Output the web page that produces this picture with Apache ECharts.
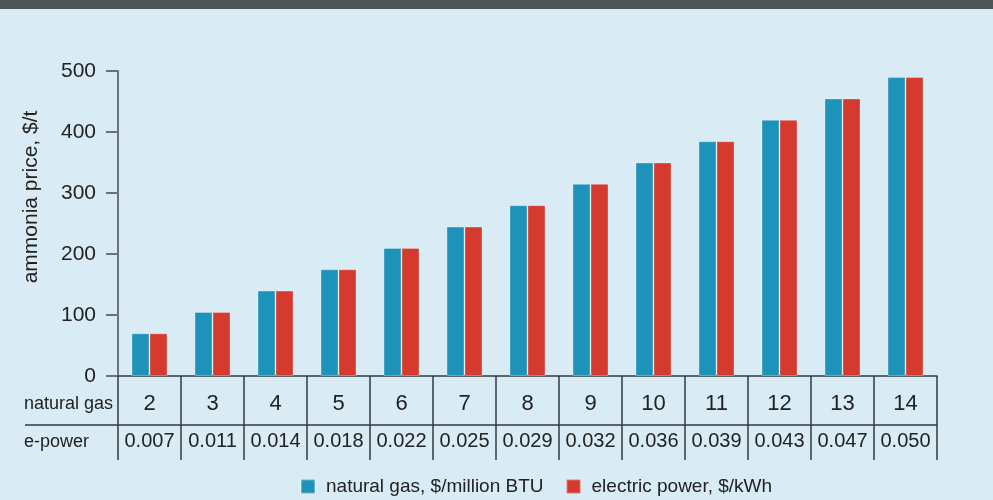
<!DOCTYPE html>
<html>
<head>
<meta charset="utf-8">
<script src="https://cdn.jsdelivr.net/npm/echarts@6/dist/echarts.min.js"></script>
<style>
  html, body { margin: 0; padding: 0; background: #d9ecf5; }
  #chart { width: 993px; height: 500px; }
</style>
</head>
<body>
<div id="chart"></div>
<script>
  // 数据
  var naturalGas = ['2', '3', '4', '5', '6', '7', '8', '9', '10', '11', '12', '13', '14']
  var ePower = ['0.007', '0.011', '0.014', '0.018', '0.022', '0.025', '0.029', '0.032', '0.036', '0.039', '0.043', '0.047', '0.050']
  var gasPrice = [70, 105, 140, 175, 210, 245, 280, 315, 350, 385, 420, 455, 490]
  var powerPrice = [70, 105, 140, 175, 210, 245, 280, 315, 350, 385, 420, 455, 490]
  var yTicks = [0, 100, 200, 300, 400, 500]

  var font = 'Liberation Sans, Arial, sans-serif'
  var lineColor = '#333a3e'

  var chart = echarts.init(document.getElementById('chart'))
  chart.setOption({
    backgroundColor: '#d9ecf5',
    textStyle: { fontFamily: font },
    animation: false,
    grid: { left: 118, right: 56, top: 71, bottom: 124 },
    legend: {
      left: 295,
      top: 472,
      itemWidth: 14,
      itemHeight: 14,
      itemGap: 22,
      icon: 'rect',
      textStyle: { fontSize: 19, color: '#222', padding: [0, 0, 0, 6] },
      data: ['natural gas, $/million BTU', 'electric power, $/kWh']
    },
    xAxis: [{
      type: 'category',
      data: naturalGas,
      axisLine: { lineStyle: { color: lineColor, width: 1.5 } },
      axisTick: { show: true, interval: 0, inside: false, length: 84, lineStyle: { color: lineColor, width: 1.5 } },
      axisLabel: { interval: 0, margin: 17, fontSize: 22, color: '#222' }
    }, {
      type: 'category',
      data: ePower,
      position: 'bottom',
      axisLine: { show: false },
      axisTick: { show: false },
      axisLabel: { interval: 0, margin: 55, fontSize: 20, color: '#222' }
    }],
    yAxis: {
      type: 'value',
      min: yTicks[0],
      max: yTicks[yTicks.length - 1],
      interval: 100,
      axisLine: { show: true, lineStyle: { color: '#6b7378', width: 2 } },
      axisTick: { show: true, length: 12, lineStyle: { color: '#6b7378', width: 2 } },
      axisLabel: { margin: 22, fontSize: 21, color: '#222' },
      splitLine: { show: false }
    },
    graphic: [
      { type: 'rect', shape: { x: 0, y: 0, width: 993, height: 9 }, style: { fill: '#4f5456' } },
      { type: 'line', shape: { x1: 25, y1: 425, x2: 937, y2: 425 }, style: { stroke: lineColor, lineWidth: 1.5 } },
      { type: 'text', x: 24, y: 404, style: { text: 'natural gas', fontSize: 18, fontFamily: font, fill: '#222', textVerticalAlign: 'middle' } },
      { type: 'text', x: 24, y: 442, style: { text: 'e-power', fontSize: 18, fontFamily: font, fill: '#222', textVerticalAlign: 'middle' } },
      { type: 'text', x: 31, y: 197, rotation: Math.PI / 2,
        style: { text: 'ammonia price, $/t', fontSize: 21, fontFamily: font, fill: '#222', textAlign: 'center', textVerticalAlign: 'middle' } }
    ],
    series: [{
      name: 'natural gas, $/million BTU',
      type: 'bar',
      barWidth: 18,
      barGap: '0%',
      data: gasPrice,
      itemStyle: { color: '#1e93b9', borderColor: 'rgba(255,255,255,0.3)', borderWidth: 1 }
    }, {
      name: 'electric power, $/kWh',
      type: 'bar',
      barWidth: 18,
      barGap: '0%',
      data: powerPrice,
      itemStyle: { color: '#d43a2e', borderColor: 'rgba(255,255,255,0.3)', borderWidth: 1 }
    }]
  })
</script>
</body>
</html>
